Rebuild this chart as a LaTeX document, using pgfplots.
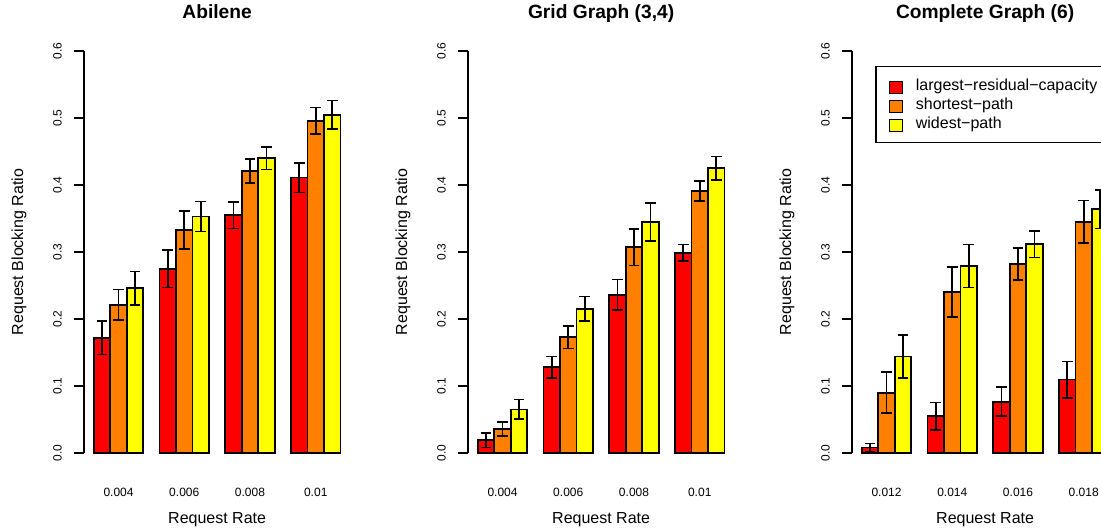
\documentclass[border=0pt]{standalone}
\usepackage{fontspec}
\setmainfont{Liberation Sans}
\usepackage{pgfplots}
\pgfplotsset{compat=1.18}

\definecolor{hc1}{HTML}{FF0000}
\definecolor{hc2}{HTML}{FF8000}
\definecolor{hc3}{HTML}{FFFF00}

\pgfplotsset{
  rpanel/.style={
    scale only axis, width=199.7pt, height=325.6pt,
    anchor=south west,
    xmin=0.4, xmax=16.6, ymin=-0.024, ymax=0.624,
    clip=false,
    axis line style={draw=none},
    ybar, bar width=1, bar shift=0pt,
    xtick={2.5,6.5,10.5,14.5},
    xtick style={draw=none},
    ytick={0,0.1,0.2,0.3,0.4,0.5,0.6},
    yticklabels={0.0,0.1,0.2,0.3,0.4,0.5,0.6},
    ytick pos=left,
    ytick align=outside, major tick length=7.5pt,
    ytick style={line width=1.3pt, black},
    /pgf/number format/assume math mode=true,
    yticklabel style={font=\fontsize{9}{10}\selectfont, rotate=90, anchor=base, inner sep=0pt},
    yticklabel shift=9.2pt,
    xticklabel style={font=\fontsize{9}{10}\selectfont, anchor=base, inner sep=0pt, yshift=-13.2pt},
    xlabel={Request Rate},
    ylabel={Request Blocking Ratio},
    xlabel style={at={(axis description cs:0.5,-0.1264)}, anchor=base, font=\fontsize{12}{14}\selectfont},
    ylabel style={at={(axis description cs:-0.2283,0.5)}, rotate=0, anchor=base, font=\fontsize{12}{14}\selectfont},
    every axis title/.style={at={(axis description cs:0.5,1.0382)}, anchor=base, font=\bfseries\fontsize{14.4}{17}\selectfont},
    error bars/y dir=both, error bars/y explicit,
    error bars/error bar style={line width=1.3pt, black},
    error bars/error mark options={rotate=90, mark size=4pt, line width=1.3pt, black},
  },
  every axis plot/.append style={draw=black, line width=1.3pt},
}

\begin{document}
\begin{tikzpicture}
\path[use as bounding box] (0,0) rectangle (825.75pt,-398.25pt);
\clip (0,0) rectangle (825.75pt,-398.25pt);

% Abilene
\begin{axis}[rpanel, at={(63pt,-351.8pt)}, title={Abilene},
  xticklabels={0.004,0.006,0.008,0.01}]
\addplot[fill=hc1] coordinates {(1.5,0.172) +- (0,0.025) (5.5,0.275) +- (0,0.028) (9.5,0.355) +- (0,0.020) (13.5,0.411) +- (0,0.022)};
\addplot[fill=hc2] coordinates {(2.5,0.221) +- (0,0.023) (6.5,0.333) +- (0,0.028) (10.5,0.421) +- (0,0.018) (14.5,0.496) +- (0,0.0195)};
\addplot[fill=hc3] coordinates {(3.5,0.246) +- (0,0.025) (7.5,0.353) +- (0,0.0225) (11.5,0.440) +- (0,0.017) (15.5,0.505) +- (0,0.021)};
\draw[line width=1.3pt] (axis cs:0.4,0) -- (axis cs:0.4,0.6);
\end{axis}

% Grid Graph (3,4)
\begin{axis}[rpanel, at={(351pt,-351.8pt)}, title={Grid Graph (3,4)},
  xticklabels={0.004,0.006,0.008,0.01}]
\addplot[fill=hc1] coordinates {(1.5,0.019) +- (0,0.011) (5.5,0.128) +- (0,0.016) (9.5,0.236) +- (0,0.023) (13.5,0.299) +- (0,0.012)};
\addplot[fill=hc2] coordinates {(2.5,0.036) +- (0,0.0105) (6.5,0.173) +- (0,0.017) (10.5,0.307) +- (0,0.027) (14.5,0.391) +- (0,0.015)};
\addplot[fill=hc3] coordinates {(3.5,0.065) +- (0,0.0147) (7.5,0.215) +- (0,0.0185) (11.5,0.345) +- (0,0.0285) (15.5,0.425) +- (0,0.0175)};
\draw[line width=1.3pt] (axis cs:0.4,0) -- (axis cs:0.4,0.6);
\end{axis}

% Complete Graph (6)
\begin{axis}[rpanel, at={(639pt,-351.8pt)}, title={Complete Graph (6)},
  xticklabels={0.012,0.014,0.016,0.018},
  legend cell align=left,
  legend image code/.code={\draw[#1, line width=0.8pt] (0pt,-6pt) rectangle (9.5pt,2.8pt);},
  legend style={at={(axis description cs:0.0864,0.929)}, anchor=north west,
    draw=black, line width=1.2pt, fill=white, font=\fontsize{12}{14}\selectfont,
    inner xsep=10pt, inner ysep=7.5pt, row sep=0.75pt,
    nodes={inner sep=0pt, text height=10.8pt, text depth=2.7pt},
    /tikz/every odd column/.append style={column sep=9.75pt}}]
\addplot[fill=hc1] coordinates {(1.5,0.008) +- (0,0.006) (5.5,0.055) +- (0,0.0205) (9.5,0.0765) +- (0,0.0215) (13.5,0.1095) +- (0,0.027)};
\addplot[fill=hc2] coordinates {(2.5,0.090) +- (0,0.0305) (6.5,0.2405) +- (0,0.037) (10.5,0.282) +- (0,0.024) (14.5,0.345) +- (0,0.032)};
\addplot[fill=hc3] coordinates {(3.5,0.144) +- (0,0.032) (7.5,0.279) +- (0,0.032) (11.5,0.3115) +- (0,0.0198) (15.5,0.364) +- (0,0.029)};
\legend{largest−residual−capacity, shortest−path, widest−path}
\draw[line width=1.3pt] (axis cs:0.4,0) -- (axis cs:0.4,0.6);
\end{axis}
\end{tikzpicture}
\end{document}
